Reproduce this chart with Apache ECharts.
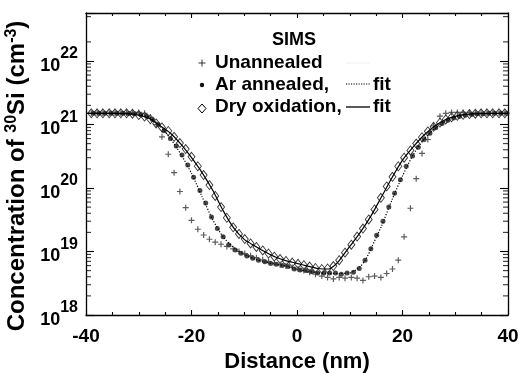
<!DOCTYPE html>
<html><head><meta charset="utf-8">
<script src="https://cdn.jsdelivr.net/npm/echarts@6/dist/echarts.min.js"></script>
<style>html,body{margin:0;padding:0;background:#fff}#c{width:519px;height:373px}</style>
</head><body><div id="c"></div><script>
// ---- data ----
const depthA = [-39.0,-37.9,-36.8,-35.6,-34.5,-33.4,-32.3,-31.2,-30.0,-28.9,-27.8,-26.7,-25.6,-24.4,-23.3,-22.2,-21.1,-20.0,-18.8,-17.7,-16.6,-15.5,-14.4,-13.3,-12.1,-11.0,-9.9,-8.8,-7.7,-6.5,-5.4,-4.3,-3.2,-2.1,-0.9,0.2,1.3,2.4,3.5,4.7,5.8,6.9,8.0,9.1,10.3,11.4,12.5,13.6,14.7,15.9,17.0,18.1,19.2,20.3,21.5,22.6,23.7,24.8,25.9,27.1,28.2,29.3,30.4,31.5,32.7,33.8,34.9,36.0,37.1,38.3,39.4];
const unannealed = [1.5e21,1.52e21,1.5e21,1.5e21,1.52e21,1.5e21,1.52e21,1.55e21,1.55e21,1.5e21,
 1.3e21,1.0e21,6.4e20,3.4e20,1.74e20,8.8e19,4.9e19,3.1e19,2.24e19,1.82e19,
 1.56e19,1.4e19,1.3e19,1.2e19,1.1e19,1.0e19,9.3e18,8.6e18,8.0e18,7.4e18,
 7.0e18,6.6e18,6.2e18,5.9e18,5.6e18,5.3e18,5.0e18,4.7e18,4.4e18,4.1e18,
 3.9e18,3.7e18,3.9e18,3.8e18,3.9e18,3.8e18,3.5e18,4.0e18,4.1e18,3.9e18,
 4.5e18,5.3e18,7.3e18,1.7e19,4.8e19,1.4e20,3.5e20,5.8e20,9.5e20,1.35e21,
 1.5e21,1.55e21,1.55e21,1.55e21,1.55e21,1.52e21,1.52e21,1.5e21,1.5e21,1.5e21,1.5e21];
const dryOxidation = [1.5e21,1.5e21,1.5e21,1.5e21,1.5e21,1.5e21,1.5e21,1.48e21,1.41e21,1.33e21,
 1.21e21,1.04e21,9.0e20,7.9e20,6.4e20,5.1e20,4.1e20,3.1e20,2.2e20,1.6e20,
 1.11e20,7.5e19,5.0e19,3.4e19,2.4e19,1.89e19,1.57e19,1.34e19,1.18e19,1.04e19,
 9.3e18,8.3e18,7.6e18,7.1e18,6.7e18,6.4e18,6.1e18,5.8e18,5.5e18,5.3e18,
 5.4e18,5.9e18,7.3e18,9.6e18,1.28e19,1.72e19,2.3e19,3.2e19,4.6e19,7.0e19,
 1.06e20,1.5e20,2.2e20,3.0e20,3.9e20,5.0e20,6.3e20,7.8e20,9.2e20,1.07e21,
 1.2e21,1.3e21,1.37e21,1.42e21,1.46e21,1.48e21,1.5e21,1.5e21,1.5e21,1.5e21,1.5e21];
const depthB = [-38.6,-37.5,-36.4,-35.2,-34.1,-33.0,-31.9,-30.8,-29.6,-28.5,-27.4,-26.3,-25.2,-24.0,-22.9,-21.8,-20.7,-19.6,-18.4,-17.3,-16.2,-15.1,-14.0,-12.9,-11.7,-10.6,-9.5,-8.4,-7.3,-6.1,-5.0,-3.9,-2.8,-1.7,-0.5,0.6,1.7,2.8,3.9,5.1,6.2,7.3,8.4,9.5,10.7,11.8,12.9,14.0,15.1,16.3,17.4,18.5,19.6,20.7,21.9,23.0,24.1,25.2,26.3,27.5,28.6,29.7,30.8,31.9,33.1,34.2,35.3,36.4,37.5,38.7,39.8];
const arAnnealed = [1.5e21,1.5e21,1.5e21,1.5e21,1.5e21,1.5e21,1.49e21,1.47e21,1.43e21,1.35e21,
 1.2e21,1.0e21,8.0e20,6.0e20,4.6e20,3.3e20,2.3e20,1.47e20,9.1e19,5.8e19,
 3.5e19,2.3e19,1.7e19,1.27e19,1.06e19,9.4e18,8.5e18,7.8e18,7.3e18,6.9e18,
 6.5e18,6.3e18,6.0e18,5.8e18,5.3e18,5.1e18,5.0e18,4.8e18,4.6e18,4.6e18,
 4.6e18,4.6e18,4.4e18,4.6e18,4.7e18,5.4e18,7.3e18,1.1e19,1.8e19,3.0e19,
 5.0e19,8.3e19,1.35e20,2.2e20,3.2e20,4.4e20,5.8e20,7.3e20,8.9e20,1.04e21,
 1.17e21,1.27e21,1.34e21,1.4e21,1.44e21,1.47e21,1.48e21,1.5e21,1.5e21,1.5e21,1.5e21];
const arFitDepth = [-40,-33,-30,-28,-26,-24,-22,-20,-18,-16,-14,-12,-10,-8,-6,-4,-2,0,2,4,6,8,10,11,12,13,14,16,18,20,22,24,26,28,30,32,35,40];
const arFit = [1.5e21,1.5e21,1.45e21,1.3e21,9.5e20,6.0e20,3.4e20,1.7e20,7.3e19,3.2e19,
 1.7e19,1.15e19,9.0e18,7.6e18,6.8e18,6.3e18,5.9e18,5.2e18,4.9e18,4.6e18,
 4.5e18,4.5e18,4.6e18,5.0e18,5.8e18,7.4e18,1.1e19,2.5e19,6.5e19,1.55e20,
 3.3e20,5.7e20,8.5e20,1.12e21,1.32e21,1.42e21,1.48e21,1.5e21];
const dryFitDepth = [-40,-35,-32,-30,-28,-26,-24,-22,-20,-18,-16,-14,-12,-10,-8,-6,-4,-2,0,2,4,6,7,8,10,12,14,16,18,20,22,24,26,28,30,32,35,40];
const dryFit = [1.5e21,1.5e21,1.47e21,1.4e21,1.24e21,9.6e20,7.3e20,4.9e20,3.0e20,1.75e20,
 9.3e19,4.4e19,2.35e19,1.55e19,1.22e19,9.8e18,8.1e18,7.1e18,6.5e18,5.9e18,
 5.4e18,5.3e18,5.9e18,7.2e18,1.2e19,2.0e19,3.6e19,7.2e19,1.45e20,2.75e20,
 4.4e20,6.7e20,9.3e20,1.18e21,1.34e21,1.44e21,1.49e21,1.5e21];
const yMajorTicks = [1e18,1e19,1e20,1e21,1e22];
const yMinorTicks = [2e18,3e18,4e18,5e18,6e18,7e18,8e18,9e18,
 2e19,3e19,4e19,5e19,6e19,7e19,8e19,9e19,
 2e20,3e20,4e20,5e20,6e20,7e20,8e20,9e20,
 2e21,3e21,4e21,5e21,6e21,7e21,8e21,9e21,
 2e22,5e22];

const FONT = 'Liberation Sans, Arial, Helvetica, sans-serif';
const X_MIN = -40, X_MAX = 40;
const zip = (xs, ys) => xs.map((x, i) => [x, ys[i]]);
const axisLineStyle = {color: '#000', width: 1.3};
const tickLine = {color: '#000', width: 1.1};

function yAxisDef(pos, showLabel) {
  return {
    type: 'log', logBase: 10, min: 1e18, max: 5.7e22, position: pos,
    axisLine: {show: true, onZero: false, lineStyle: axisLineStyle},
    axisTick: {show: true, inside: true, length: 8, lineStyle: tickLine},
    axisLabel: showLabel ? {
      show: true, margin: 8, customValues: yMajorTicks,
      formatter: v => '{b|10}{s|' + Math.round(Math.log10(v)) + '}',
      rich: {
        b: {fontSize: 18, fontWeight: 'bold', fontFamily: FONT, color: '#000', padding: [10,0,0,0]},
        s: {fontSize: 16, fontWeight: 'bold', fontFamily: FONT, color: '#000', padding: [0,0,14,0]}
      }
    } : {show: false},
    splitLine: {show: false}
  };
}

const yAxes = [yAxisDef('left', true), yAxisDef('right', false)];
yAxes[0].name = 'Concentration of {s|30}Si (cm{s|-3})';
yAxes[0].nameLocation = 'middle';
yAxes[0].nameGap = 54;
yAxes[0].nameTextStyle = {fontSize: 24, fontWeight: 'bold', fontFamily: FONT, color: '#000', padding: [0, 24, 0, 0],
  rich: {s: {fontSize: 16, fontWeight: 'bold', fontFamily: FONT, color: '#000', padding: [0,0,12,0]}}};

function xAxisDef(pos, showLabel) {
  return {
    type: 'value', min: X_MIN, max: X_MAX, interval: 20, position: pos,
    axisLine: {show: true, onZero: false, lineStyle: axisLineStyle},
    axisTick: {show: true, inside: true, length: 5, lineStyle: tickLine},
    minorTick: {show: true, splitNumber: 4, length: 3, lineStyle: tickLine},
    splitLine: {show: false}, minorSplitLine: {show: false},
    axisLabel: showLabel ? {show: true, fontSize: 19, fontWeight: 'bold', fontFamily: FONT, color: '#000', margin: 12} : {show: false}
  };
}
const xAxes = [xAxisDef('bottom', true), xAxisDef('top', false)];
xAxes[0].name = 'Distance (nm)';
xAxes[0].nameLocation = 'middle';
xAxes[0].nameGap = 31;
xAxes[0].nameTextStyle = {fontSize: 22, fontWeight: 'bold', fontFamily: FONT, color: '#000'};

// 2..9 sub-decade tick marks on both frame sides, placed through the log axis scale
function minorTickSeries(side) {
  const x = side === 'left' ? X_MIN : X_MAX;
  return {
    type: 'scatter', clip: false,
    data: yMinorTicks.map(v => [x, v]),
    symbol: 'rect', symbolSize: [5, 1.1],
    symbolOffset: [side === 'left' ? 2.5 : -2.5, 0],
    itemStyle: {color: '#000'}
  };
}

const plusPath = 'path://M4,0H6V4H10V6H6V10H4V6H0V4H4Z';

const legendFont = 'bold 19px ' + FONT;
const graphics = [
  {type: 'text', x: 294, y: 40, style: {text: 'SIMS', font: 'bold 18px ' + FONT, fill: '#000', align: 'center', verticalAlign: 'middle'}},
  {type: 'line', shape: {x1: 198.5, y1: 63, x2: 205.5, y2: 63}, style: {stroke: '#333', lineWidth: 1}},
  {type: 'line', shape: {x1: 202, y1: 59.5, x2: 202, y2: 66.5}, style: {stroke: '#333', lineWidth: 1}},
  {type: 'text', x: 215, y: 63, style: {text: 'Unannealed', font: legendFont, fill: '#000', align: 'left', verticalAlign: 'middle'}},
  {type: 'line', shape: {x1: 346, y1: 63, x2: 370, y2: 63}, style: {stroke: '#eeeeee', lineWidth: 1}},
  {type: 'circle', shape: {cx: 202, cy: 85, r: 2.2}, style: {fill: '#111'}},
  {type: 'text', x: 215, y: 85, style: {text: 'Ar annealed,', font: legendFont, fill: '#000', align: 'left', verticalAlign: 'middle'}},
  {type: 'line', shape: {x1: 346, y1: 84, x2: 370, y2: 84}, style: {stroke: '#000', lineWidth: 1.2, lineDash: [1.2, 1.3]}},
  {type: 'text', x: 373, y: 85, style: {text: 'fit', font: legendFont, fill: '#000', align: 'left', verticalAlign: 'middle'}},
  {type: 'polygon', shape: {points: [[202, 104], [206, 108.5], [202, 113], [198, 108.5]]}, style: {fill: 'none', stroke: '#000', lineWidth: 1}},
  {type: 'text', x: 215, y: 107, style: {text: 'Dry oxidation,', font: legendFont, fill: '#000', align: 'left', verticalAlign: 'middle'}},
  {type: 'line', shape: {x1: 346, y1: 107, x2: 370, y2: 107}, style: {stroke: '#000', lineWidth: 1.3}},
  {type: 'text', x: 373, y: 107, style: {text: 'fit', font: legendFont, fill: '#000', align: 'left', verticalAlign: 'middle'}}
];

const chart = echarts.init(document.getElementById('c'));
chart.setOption({
  animation: false,
  backgroundColor: '#fff',
  grid: {left: 86, right: 11, top: 13, bottom: 58, outerBoundsContain: 'axisLabel',
    outerBounds: {left: -60, top: -60, right: -60, bottom: -60}},
  xAxis: xAxes,
  yAxis: yAxes,
  graphic: graphics,
  series: [
    {name: 'Dry oxidation', type: 'scatter', data: zip(depthA, dryOxidation),
      symbol: 'diamond', symbolSize: [7, 9], itemStyle: {color: 'rgba(255,255,255,0)', borderColor: '#000', borderWidth: 0.9}},
    {name: 'Ar annealed', type: 'scatter', data: zip(depthB, arAnnealed),
      symbol: 'circle', symbolSize: 5, itemStyle: {color: '#1a1a1a'}},
    {name: 'Unannealed', type: 'scatter', data: zip(depthA, unannealed),
      symbol: plusPath, symbolSize: 6, itemStyle: {color: '#333'}},
    {name: 'Ar fit', type: 'line', data: zip(arFitDepth, arFit),
      showSymbol: false, smooth: 0.25, lineStyle: {color: '#000', width: 1.2, type: [1.2, 1.6]}},
    {name: 'Dry fit', type: 'line', data: zip(dryFitDepth, dryFit),
      showSymbol: false, smooth: 0.25, lineStyle: {color: '#000', width: 1.2}},
    minorTickSeries('left'), minorTickSeries('right')
  ]
});
</script></body></html>
